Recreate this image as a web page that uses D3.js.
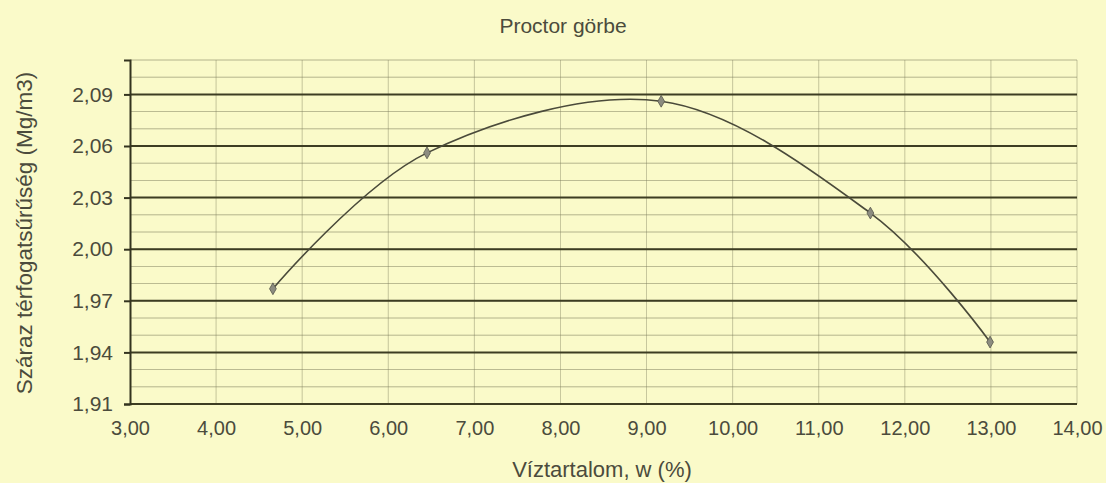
<!DOCTYPE html>
<html>
<head>
<meta charset="utf-8">
<script src="https://cdn.jsdelivr.net/npm/d3@7"></script>
<style>
  body { margin: 0; background: #fafac9; }
  svg { display: block; }
  text { font-family: "Liberation Sans", Arial, sans-serif; fill: #4b4b3c; }
</style>
</head>
<body>
<svg id="chart"></svg>
<script>
// DATA
const waterContent = [4.66, 6.45, 9.17, 11.6, 12.99];
const dryDensity = [1.977, 2.056, 2.086, 2.021, 1.946];
const xTicks = [3, 4, 5, 6, 7, 8, 9, 10, 11, 12, 13, 14];
const yTicks = [1.91, 1.94, 1.97, 2.00, 2.03, 2.06, 2.09];
const yMinor = [1.91, 1.92, 1.93, 1.94, 1.95, 1.96, 1.97, 1.98, 1.99, 2.00, 2.01, 2.02, 2.03, 2.04, 2.05, 2.06, 2.07, 2.08, 2.09, 2.10, 2.11];

// SET VARIABLES
const _width = 1106, _height = 483;
const _margin = {top: 60, right: 29, bottom: 79, left: 130};
const _font = 20;
const fmt = v => d3.format(".2f")(v).replace(".", ",");

const svg = d3.select('#chart').attr('width', _width).attr('height', _height);
svg.append('rect').attr('width', _width).attr('height', _height).attr('fill', '#fafac9');

const x = d3.scaleLinear().domain([3, 14]).range([_margin.left, _width - _margin.right]);
const y = d3.scaleLinear().domain([1.91, 2.11]).range([_height - _margin.bottom, _margin.top]);

// GRID
svg.append('g').selectAll('line.vgrid')
    .data(xTicks.slice(1))
      .enter()
    .append('line')
      .attr('x1', d => x(d)).attr('x2', d => x(d))
      .attr('y1', y(2.11)).attr('y2', y(1.91))
      .attr('stroke', '#8d8d6a').attr('stroke-width', 0.8).attr('opacity', 0.6);

svg.append('g').selectAll('line.minor')
    .data(yMinor)
      .enter()
    .append('line')
      .attr('x1', x(3)).attr('x2', x(14))
      .attr('y1', d => y(d)).attr('y2', d => y(d))
      .attr('stroke', '#7e7e5e').attr('stroke-width', 0.8).attr('opacity', 0.7);

svg.append('g').selectAll('line.major')
    .data(yTicks)
      .enter()
    .append('line')
      .attr('x1', x(3)).attr('x2', x(14))
      .attr('y1', d => y(d)).attr('y2', d => y(d))
      .attr('stroke', '#3d3d22').attr('stroke-width', 2);

// Y AXIS
const yAxis = svg.append('g')
    .attr('transform', `translate(${_margin.left}, 0)`)
    .call(d3.axisLeft(y).tickValues(yTicks).tickFormat(fmt).tickSize(6).tickPadding(11));
yAxis.select('.domain').attr('stroke', '#33331f').attr('stroke-width', 2);
yAxis.selectAll('.tick line').attr('stroke', '#33331f').attr('stroke-width', 2);
yAxis.selectAll('text').attr('font-size', _font + 1).attr('fill', '#4b4b3c')
    .attr('font-family', '"Liberation Sans", Arial, sans-serif');

// X AXIS
const xAxis = svg.append('g')
    .attr('transform', `translate(0, ${y(1.91)})`)
    .call(d3.axisBottom(x).tickValues(xTicks).tickFormat(fmt).tickSize(0).tickPadding(17));
xAxis.select('.domain').remove();
xAxis.selectAll('text').attr('font-size', _font).attr('fill', '#4b4b3c')
    .attr('font-family', '"Liberation Sans", Arial, sans-serif');

// CURVE
const points = waterContent.map((d, i) => [d, dryDensity[i]]);
const line = d3.line().x(d => x(d[0])).y(d => y(d[1])).curve(d3.curveCardinal.tension(0));
svg.append('path')
    .datum(points)
    .attr('d', line)
    .attr('fill', 'none')
    .attr('stroke', '#4a4a3a')
    .attr('stroke-width', 1.6);

svg.append('g').selectAll('path.marker')
    .data(points)
      .enter()
    .append('path')
      .attr('d', d3.symbol(d3.symbolDiamond, 40))
      .attr('transform', d => `translate(${x(d[0])}, ${y(d[1])})`)
      .attr('fill', '#8c8c80')
      .attr('stroke', '#55554a')
      .attr('stroke-width', 0.8);

// TITLES
svg.append('text')
    .attr('x', 563).attr('y', 33)
    .attr('text-anchor', 'middle')
    .attr('font-size', 21)
    .text('Proctor görbe');

svg.append('text')
    .attr('x', 602).attr('y', 477)
    .attr('text-anchor', 'middle')
    .attr('font-size', 22)
    .text('Víztartalom, w (%)');

svg.append('text')
    .attr('transform', 'translate(32, 233) rotate(-90)')
    .attr('text-anchor', 'middle')
    .attr('font-size', 22.5)
    .text('Száraz térfogatsűrűség (Mg/m3)');
</script>
</body>
</html>
